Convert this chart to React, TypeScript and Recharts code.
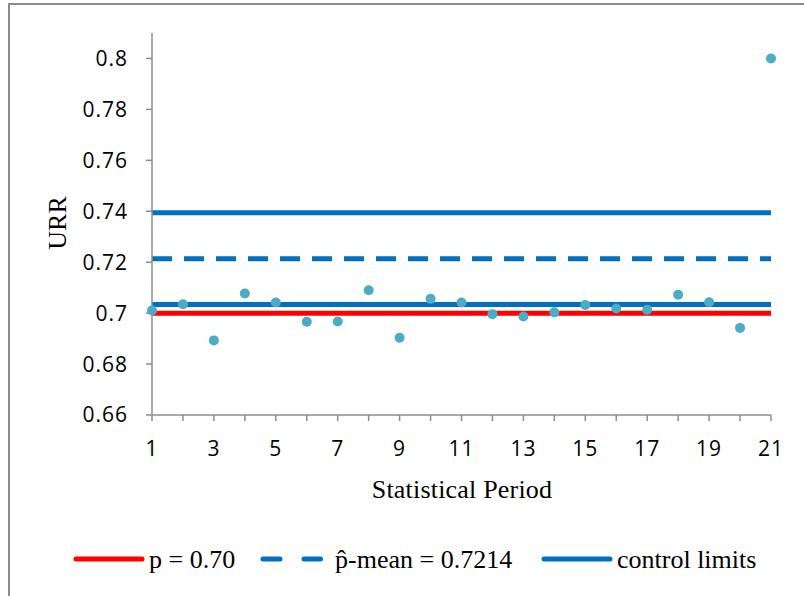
import { ComposedChart, Line, Scatter, XAxis, YAxis } from 'recharts'

const periods = [1, 2, 3, 4, 5, 6, 7, 8, 9, 10, 11, 12, 13, 14, 15, 16, 17, 18, 19, 20, 21]
const urr = [
  0.701, 0.7035, 0.6893, 0.7077, 0.7042, 0.6966, 0.6967, 0.709, 0.6903, 0.7056, 0.7042,
  0.6996, 0.6987, 0.7003, 0.7032, 0.7018, 0.7013, 0.7072, 0.7043, 0.6942, 0.8,
]
const pTarget = 0.7
const pMean = 0.7214
const lowerLimit = 0.7034
const upperLimit = 0.7394
const yTicks = [0.66, 0.68, 0.7, 0.72, 0.74, 0.76, 0.78, 0.8]

const RED = '#ff0000'
const BLUE = '#0070c0'
const DOT = '#4bacc6'
const AXIS = '#8c8c8c'

const rows = periods.map((period, i) => ({
  period,
  urr: urr[i],
  p: pTarget,
  mean: pMean,
  lcl: lowerLimit,
  ucl: upperLimit,
}))

const tickFont = { fontFamily: 'Open Sans', fontSize: 21, fill: '#000', letterSpacing: 1 }
const serif = "'Liberation Serif', 'Times New Roman', serif"
const LEGEND_Y = 559

// legend swatch: line drawn from x1 to x2 (absolute page x)
function Swatch({ x1, x2, color, dash }: { x1: number; x2: number; color: string; dash?: string }) {
  return (
    <svg width={x2 - x1 + 8} height={10} style={{ position: 'absolute', left: x1 - 4, top: LEGEND_Y - 5 }}>
      <line
        x1={4}
        y1={5}
        x2={x2 - x1 + 4}
        y2={5}
        stroke={color}
        strokeWidth={5}
        strokeLinecap="round"
        strokeDasharray={dash}
      />
    </svg>
  )
}

function LegendText({ x, children }: { x: number; children: string }) {
  return (
    <div
      style={{
        position: 'absolute',
        left: x,
        top: LEGEND_Y + 1,
        transform: 'translateY(-50%)',
        fontFamily: serif,
        fontSize: 26,
        whiteSpace: 'nowrap',
        lineHeight: 1,
      }}
    >
      {children}
    </div>
  )
}

export default function App() {
  return (
    <div style={{ position: 'fixed', left: 0, top: 0, width: 804, height: 596, background: '#fff', overflow: 'hidden' }}>
      <div
        style={{
          position: 'absolute',
          left: 8,
          top: 3,
          width: 900,
          height: 700,
          borderLeft: `2px solid ${AXIS}`,
          borderTop: `2px solid ${AXIS}`,
        }}
      />
      <ComposedChart
        width={804}
        height={596}
        data={rows}
        margin={{ top: 33, right: 33, left: 72, bottom: 151 }}
        style={{ position: 'absolute', left: 0, top: 0 }}
      >
        <XAxis
          dataKey="period"
          type="number"
          domain={[1, 21]}
          ticks={periods}
          interval={0}
          height={30}
          tickFormatter={(v: number) => (v % 2 === 1 ? String(v) : '')}
          stroke={AXIS}
          strokeWidth={1.5}
          tickMargin={20}
          tick={tickFont}
        />
        <YAxis
          type="number"
          domain={[0.66, 0.81]}
          ticks={yTicks}
          width={80}
          tickFormatter={(v: number) => String(Number(v.toFixed(2)))}
          stroke={AXIS}
          strokeWidth={1.5}
          tickMargin={18}
          tick={tickFont}
        />
        <Line dataKey="p" stroke={RED} strokeWidth={5} dot={false} isAnimationActive={false} />
        <Line dataKey="ucl" stroke={BLUE} strokeWidth={5} dot={false} isAnimationActive={false} />
        <Line dataKey="lcl" stroke={BLUE} strokeWidth={5} dot={false} isAnimationActive={false} />
        <Line
          dataKey="mean"
          stroke={BLUE}
          strokeWidth={5}
          strokeDasharray="20 12"
          dot={false}
          isAnimationActive={false}
        />
        <Scatter
          dataKey="urr"
          fill={DOT}
          isAnimationActive={false}
          shape={(props: any) => <circle cx={props.cx} cy={props.cy} r={5} fill={DOT} />}
        />
      </ComposedChart>

      <div
        style={{
          position: 'absolute',
          left: 58,
          top: 223,
          transform: 'translate(-50%, -50%) rotate(-90deg)',
          fontFamily: serif,
          fontSize: 26,
          whiteSpace: 'nowrap',
        }}
      >
        URR
      </div>
      <div
        style={{
          position: 'absolute',
          left: 462,
          top: 490,
          transform: 'translate(-50%, -50%)',
          fontFamily: serif,
          fontSize: 26,
          letterSpacing: 0.2,
          whiteSpace: 'nowrap',
        }}
      >
        Statistical Period
      </div>

      <Swatch x1={75.5} x2={141.5} color={RED} />
      <LegendText x={149}>p = 0.70</LegendText>
      <Swatch x1={262.5} x2={320} color={BLUE} dash="17 24" />
      <LegendText x={335}>p̂-mean = 0.7214</LegendText>
      <Swatch x1={543.5} x2={609.5} color={BLUE} />
      <LegendText x={617}>control limits</LegendText>
    </div>
  )
}
